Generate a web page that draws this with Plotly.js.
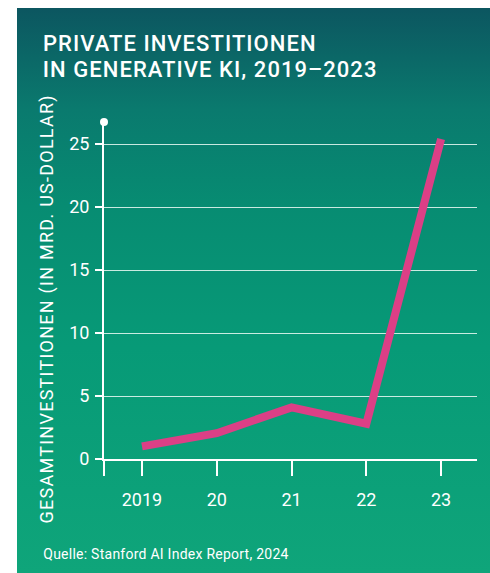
<!DOCTYPE html>
<html>
<head>
<meta charset="utf-8">
<script src="https://cdn.plot.ly/plotly-3.0.1.min.js"></script>
<style>
  html, body { margin: 0; padding: 0; background: #ffffff; }
  #wrap { position: relative; width: 490px; height: 573px; overflow: hidden; }
  #bg { position: absolute; left: 17px; top: 8px; width: 473px; height: 565px;
        background: linear-gradient(to bottom, #0c5660 0%, #0a7a6e 18%, #078c72 35%, #079a77 60%, #0fa57a 100%); }
  #chart { position: absolute; left: 0; top: 0; width: 490px; height: 573px; }
</style>
</head>
<body>
<div id="wrap">
  <div id="bg"></div>
  <div id="chart"></div>
</div>
<script>
const years = [0, 1, 2, 3, 4];
const yearLabels = ["2019", "20", "21", "22", "23"];
const investments = [1.0, 2.05, 4.1, 2.8, 25.4];
const yTicks = [0, 5, 10, 15, 20, 25];
const titleLine1 = "PRIVATE INVESTITIONEN";
const titleLine2 = "IN GENERATIVE KI, 2019\u20132023";
const yTitle = "GESAMTINVESTITIONEN (IN MRD. US-DOLLAR)";
const source = "Quelle: Stanford AI Index Report, 2024";

const trace = {
  x: years,
  y: investments,
  type: "scatter",
  mode: "lines",
  line: { color: "#dc3f86", width: 8 },
  hoverinfo: "skip",
  cliponaxis: false
};

const spacing = [1.05, 1.05, 1.25, 0.25];
const half = function (s, ls) { return s.length * ls / 2; };

const layout = {
  width: 490,
  height: 573,
  margin: { l: 104, r: 13, t: 122, b: 114 },
  paper_bgcolor: "rgba(0,0,0,0)",
  plot_bgcolor: "rgba(0,0,0,0)",
  font: { family: "Roboto, sans-serif", color: "#ffffff" },
  showlegend: false,
  xaxis: {
    range: [-0.508, 4.48],
    tickvals: years,
    ticktext: yearLabels,
    showgrid: false,
    zeroline: false,
    showline: true,
    linecolor: "#ffffff",
    linewidth: 2,
    ticks: "outside",
    ticklen: 15,
    tickwidth: 2,
    tickcolor: "#ffffff",
    ticklabelstandoff: 8,
    tickfont: { size: 18, color: "#ffffff", family: "Roboto, sans-serif" },
    fixedrange: true
  },
  yaxis: {
    range: [0, 26.75],
    tickvals: yTicks,
    showgrid: true,
    gridcolor: "rgba(235,250,245,0.85)",
    gridwidth: 1,
    zeroline: false,
    showline: true,
    linecolor: "#ffffff",
    linewidth: 2,
    ticks: "outside",
    ticklen: 7,
    tickwidth: 2,
    tickcolor: "#ffffff",
    ticklabelstandoff: 2,
    tickfont: { size: 18, color: "#ffffff", family: "Roboto, sans-serif" },
    fixedrange: true
  },
  shapes: [
    { type: "line", xref: "paper", yref: "paper", x0: 0, x1: 0, y0: 0, y1: -0.0504,
      line: { color: "#ffffff", width: 2 } },
    { type: "circle", xref: "paper", yref: "paper", xsizemode: "pixel", ysizemode: "pixel",
      xanchor: 0, yanchor: 1, x0: -4, x1: 4, y0: -4, y1: 4,
      fillcolor: "#ffffff", line: { color: "#ffffff", width: 0 } }
  ],
  annotations: [
    { text: titleLine1, xref: "paper", yref: "paper", x: -0.1689, y: 1.2315,
      xanchor: "left", yanchor: "middle", showarrow: false,
      xshift: half(titleLine1, spacing[0]),
      font: { size: 22, weight: 500, color: "#ffffff", family: "Roboto, sans-serif" } },
    { text: titleLine2, xref: "paper", yref: "paper", x: -0.1689, y: 1.157,
      xanchor: "left", yanchor: "middle", showarrow: false,
      xshift: half(titleLine2, spacing[1]),
      font: { size: 22, weight: 500, color: "#ffffff", family: "Roboto, sans-serif" } },
    { text: yTitle, xref: "paper", yref: "paper", x: -0.1528, y: 0.445,
      xanchor: "center", yanchor: "middle", textangle: -90, showarrow: false,
      font: { size: 18, color: "#ffffff", family: "Roboto, sans-serif" } },
    { text: source, xref: "paper", yref: "paper", x: -0.1689, y: -0.2825,
      xanchor: "left", yanchor: "middle", showarrow: false,
      xshift: half(source, spacing[3]),
      font: { size: 14, color: "#ffffff", family: "Roboto, sans-serif" } }
  ]
};

Plotly.newPlot("chart", [trace], layout, { displayModeBar: false, staticPlot: true }).then(function (gd) {
  const texts = gd.querySelectorAll(".annotation-text");
  texts.forEach(function (t, i) {
    if (spacing[i] !== undefined) t.style.letterSpacing = spacing[i] + "px";
  });
});
</script>
</body>
</html>
